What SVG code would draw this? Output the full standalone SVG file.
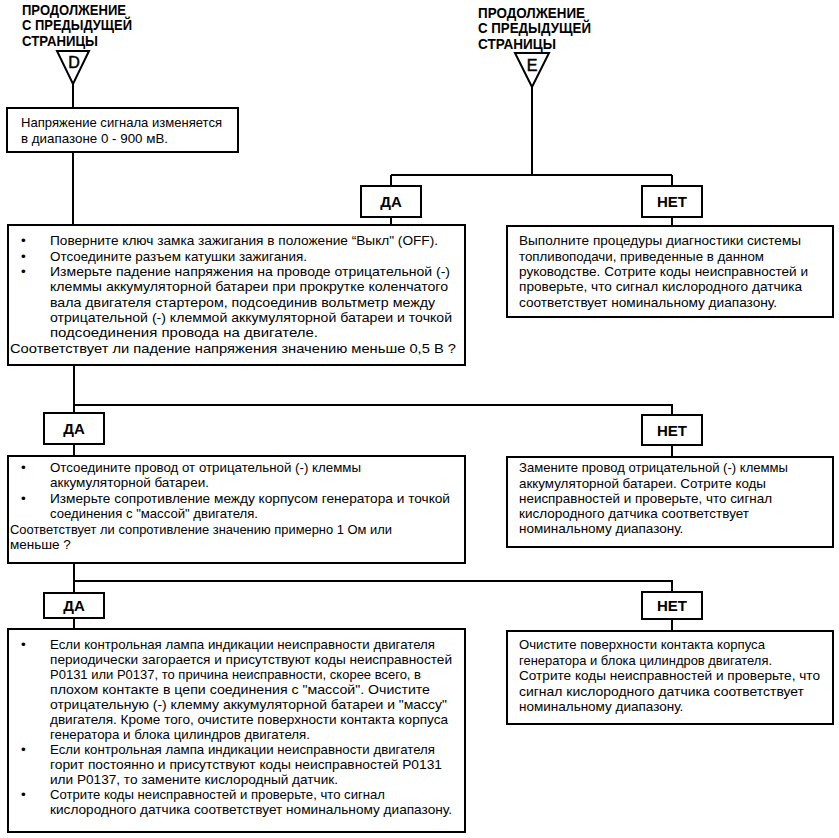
<svg xmlns="http://www.w3.org/2000/svg" width="839" height="838" viewBox="0 0 839 838">
<style>
.bg{fill:#ffffff}
.box{fill:#ffffff;stroke:#000000;stroke-width:2}
.ln{fill:none;stroke:#000000;stroke-width:2}
.t{font-family:"Liberation Sans",Arial,sans-serif;font-size:13.5px;fill:#000000}
.h{font-family:"Liberation Sans",Arial,sans-serif;font-size:14px;font-weight:bold;fill:#000000}
.lab{font-family:"Liberation Sans",Arial,sans-serif;font-size:15px;font-weight:bold;fill:#000000;text-anchor:middle}
.let{font-family:"Liberation Sans",Arial,sans-serif;font-size:16px;fill:#000000;stroke:#000000;stroke-width:0.5;text-anchor:middle}
</style>
<rect class="bg" x="0" y="0" width="839" height="838"/>
<g id="connectors">
<path class="ln" d="M73,84 V108"/>
<path class="ln" d="M73,152 V225"/>
<path class="ln" d="M532,87 V175"/>
<path class="ln" d="M391,175 H672"/>
<path class="ln" d="M391,175 V186 M391,217 V225"/>
<path class="ln" d="M672,175 V186 M672,217 V226"/>
<path class="ln" d="M74,365 V413 M74,444 V456"/>
<path class="ln" d="M74,405 H672 V415 M672,445 V457"/>
<path class="ln" d="M74,563 V593 M74,618 V629"/>
<path class="ln" d="M74,581 H672 V592 M672,619 V631"/>
</g>
<g id="connector-D">
<text class="h" x="22" y="15" textLength="104" lengthAdjust="spacingAndGlyphs">ПРОДОЛЖЕНИЕ</text>
<text class="h" x="22" y="30" textLength="110" lengthAdjust="spacingAndGlyphs">С ПРЕДЫДУЩЕЙ</text>
<text class="h" x="22" y="45.5" textLength="76" lengthAdjust="spacingAndGlyphs">СТРАНИЦЫ</text>
<path class="box" d="M57,51 H89 L73,84 Z"/>
<text class="let" x="74" y="68">D</text>
</g>
<g id="connector-E">
<text class="h" x="478" y="17.5" textLength="107" lengthAdjust="spacingAndGlyphs">ПРОДОЛЖЕНИЕ</text>
<text class="h" x="478" y="33" textLength="113" lengthAdjust="spacingAndGlyphs">С ПРЕДЫДУЩЕЙ</text>
<text class="h" x="478" y="48.5" textLength="78" lengthAdjust="spacingAndGlyphs">СТРАНИЦЫ</text>
<path class="box" d="M515,53 H549 L532,87 Z"/>
<text class="let" x="532" y="71">E</text>
</g>
<g id="node-signal">
<rect class="box" x="7" y="108" width="231" height="44"/>
<text class="t" x="21" y="127" textLength="201" lengthAdjust="spacingAndGlyphs">Напряжение сигнала изменяется</text>
<text class="t" x="21" y="143" textLength="147" lengthAdjust="spacingAndGlyphs">в диапазоне 0 - 900 мВ.</text>
</g>
<g id="yes-1">
<rect class="box" x="361" y="186" width="60" height="31"/>
<text class="lab" x="391" y="207">ДА</text>
</g>
<g id="no-1">
<rect class="box" x="642" y="186" width="60" height="31"/>
<text class="lab" x="672" y="207">НЕТ</text>
</g>
<g id="node-voltage-drop">
<rect class="box" x="8" y="225" width="457" height="140"/>
<text class="t" x="21" y="245">•</text>
<text class="t" x="50" y="245" textLength="388" lengthAdjust="spacingAndGlyphs">Поверните ключ замка зажигания в положение “Выкл" (OFF).</text>
<text class="t" x="21" y="260.5">•</text>
<text class="t" x="50" y="260.5" textLength="257" lengthAdjust="spacingAndGlyphs">Отсоедините разъем катушки зажигания.</text>
<text class="t" x="21" y="276">•</text>
<text class="t" x="50" y="276" textLength="400" lengthAdjust="spacingAndGlyphs">Измерьте падение напряжения на проводе отрицательной (-)</text>
<text class="t" x="50" y="291" textLength="398" lengthAdjust="spacingAndGlyphs">клеммы аккумуляторной батареи при прокрутке коленчатого</text>
<text class="t" x="50" y="306.5" textLength="385" lengthAdjust="spacingAndGlyphs">вала двигателя стартером, подсоединив вольтметр между</text>
<text class="t" x="50" y="322" textLength="402" lengthAdjust="spacingAndGlyphs">отрицательной (-) клеммой аккумуляторной батареи и точкой</text>
<text class="t" x="50" y="337" textLength="268" lengthAdjust="spacingAndGlyphs">подсоединения провода на двигателе.</text>
<text class="t" x="10" y="352.5" textLength="446" lengthAdjust="spacingAndGlyphs">Соответствует ли падение напряжения значению меньше 0,5 В ?</text>
</g>
<g id="node-fuel-diag">
<rect class="box" x="507" y="226" width="326" height="91"/>
<text class="t" x="519" y="245" textLength="282" lengthAdjust="spacingAndGlyphs">Выполните процедуры диагностики системы</text>
<text class="t" x="519" y="260.5" textLength="245" lengthAdjust="spacingAndGlyphs">топливоподачи, приведенные в данном</text>
<text class="t" x="519" y="276" textLength="289" lengthAdjust="spacingAndGlyphs">руководстве. Сотрите коды неисправностей и</text>
<text class="t" x="519" y="291" textLength="283" lengthAdjust="spacingAndGlyphs">проверьте, что сигнал кислородного датчика</text>
<text class="t" x="519" y="306.5" textLength="258" lengthAdjust="spacingAndGlyphs">соответствует номинальному диапазону.</text>
</g>
<g id="yes-2">
<rect class="box" x="44" y="413" width="60" height="31"/>
<text class="lab" x="74" y="434">ДА</text>
</g>
<g id="no-2">
<rect class="box" x="642" y="415" width="60" height="30"/>
<text class="lab" x="672" y="435.5">НЕТ</text>
</g>
<g id="node-resistance">
<rect class="box" x="8" y="456" width="457" height="107"/>
<text class="t" x="21" y="472">•</text>
<text class="t" x="50" y="472" textLength="311" lengthAdjust="spacingAndGlyphs">Отсоедините провод от отрицательной (-) клеммы</text>
<text class="t" x="50" y="487">аккумуляторной батареи.</text>
<text class="t" x="21" y="503">•</text>
<text class="t" x="50" y="503" textLength="400" lengthAdjust="spacingAndGlyphs">Измерьте сопротивление между корпусом генератора и точкой</text>
<text class="t" x="50" y="518" textLength="208" lengthAdjust="spacingAndGlyphs">соединения с "массой" двигателя.</text>
<text class="t" x="10" y="534" textLength="382" lengthAdjust="spacingAndGlyphs">Соответствует ли сопротивление значению примерно 1 Ом или</text>
<text class="t" x="10" y="549">меньше ?</text>
</g>
<g id="node-replace-wire">
<rect class="box" x="507" y="457" width="326" height="90"/>
<text class="t" x="519" y="472" textLength="269" lengthAdjust="spacingAndGlyphs">Замените провод отрицательной (-) клеммы</text>
<text class="t" x="519" y="487.5" textLength="247" lengthAdjust="spacingAndGlyphs">аккумуляторной батареи. Сотрите коды</text>
<text class="t" x="519" y="503" textLength="253" lengthAdjust="spacingAndGlyphs">неисправностей и проверьте, что сигнал</text>
<text class="t" x="519" y="518" textLength="230" lengthAdjust="spacingAndGlyphs">кислородного датчика соответствует</text>
<text class="t" x="519" y="533">номинальному диапазону.</text>
</g>
<g id="yes-3">
<rect class="box" x="44" y="593" width="60" height="25"/>
<text class="lab" x="74" y="611">ДА</text>
</g>
<g id="no-3">
<rect class="box" x="642" y="592" width="60" height="27"/>
<text class="lab" x="672" y="611">НЕТ</text>
</g>
<g id="node-lamp">
<rect class="box" x="8" y="629" width="457" height="203"/>
<text class="t" x="21" y="649">•</text>
<text class="t" x="50" y="649" textLength="385" lengthAdjust="spacingAndGlyphs">Если контрольная лампа индикации неисправности двигателя</text>
<text class="t" x="50" y="664" textLength="402" lengthAdjust="spacingAndGlyphs">периодически загорается и присутствуют коды неисправностей</text>
<text class="t" x="50" y="679" textLength="371" lengthAdjust="spacingAndGlyphs">P0131 или P0137, то причина неисправности, скорее всего, в</text>
<text class="t" x="50" y="694" textLength="380" lengthAdjust="spacingAndGlyphs">плохом контакте в цепи соединения с "массой". Очистите</text>
<text class="t" x="50" y="709" textLength="397" lengthAdjust="spacingAndGlyphs">отрицательную (-) клемму аккумуляторной батареи и "массу"</text>
<text class="t" x="50" y="724" textLength="398" lengthAdjust="spacingAndGlyphs">двигателя. Кроме того, очистите поверхности контакта корпуса</text>
<text class="t" x="50" y="739" textLength="260" lengthAdjust="spacingAndGlyphs">генератора и блока цилиндров двигателя.</text>
<text class="t" x="21" y="754">•</text>
<text class="t" x="50" y="754" textLength="385" lengthAdjust="spacingAndGlyphs">Если контрольная лампа индикации неисправности двигателя</text>
<text class="t" x="50" y="769" textLength="392" lengthAdjust="spacingAndGlyphs">горит постоянно и присутствуют коды неисправностей P0131</text>
<text class="t" x="50" y="784" textLength="288" lengthAdjust="spacingAndGlyphs">или P0137, то замените кислородный датчик.</text>
<text class="t" x="21" y="799">•</text>
<text class="t" x="50" y="799" textLength="335" lengthAdjust="spacingAndGlyphs">Сотрите коды неисправностей и проверьте, что сигнал</text>
<text class="t" x="50" y="814" textLength="402" lengthAdjust="spacingAndGlyphs">кислородного датчика соответствует номинальному диапазону.</text>
</g>
<g id="node-clean-contacts">
<rect class="box" x="507" y="631" width="326" height="93"/>
<text class="t" x="519" y="649" textLength="246" lengthAdjust="spacingAndGlyphs">Очистите поверхности контакта корпуса</text>
<text class="t" x="519" y="664.5" textLength="253" lengthAdjust="spacingAndGlyphs">генератора и блока цилиндров двигателя.</text>
<text class="t" x="519" y="680" textLength="301" lengthAdjust="spacingAndGlyphs">Сотрите коды неисправностей и проверьте, что</text>
<text class="t" x="519" y="695.5" textLength="285" lengthAdjust="spacingAndGlyphs">сигнал кислородного датчика соответствует</text>
<text class="t" x="519" y="711">номинальному диапазону.</text>
</g>
</svg>
